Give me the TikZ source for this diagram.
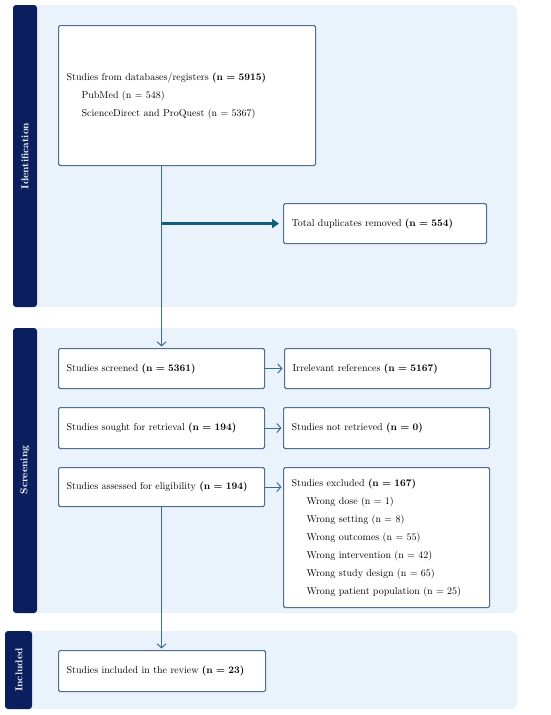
\documentclass[tikz,border=0pt]{standalone}
\usetikzlibrary{arrows.meta,positioning}
\definecolor{bandblue}{HTML}{0B1F5E}
\definecolor{panelblue}{HTML}{EAF2FC}
\definecolor{boxline}{HTML}{4F6E91}
\definecolor{arrowblue}{HTML}{3D6A99}
\definecolor{dupteal}{HTML}{0F5D7A}
\newcommand{\reason}[1]{\hspace*{15pt}#1}
\begin{document}
\begin{tikzpicture}[x=1pt,y=-1pt,
  box/.style={draw=boxline,line width=1.1pt,fill=white,rounded corners=1.5pt,anchor=north west,
    align=left,inner xsep=8pt,font=\fontsize{10}{18}\selectfont},
  flow/.style={draw=arrowblue,line width=1pt,-{Straight Barb[length=4pt,width=9pt]},shorten >=1.5pt},
  band/.style={fill=bandblue,rounded corners=3pt},
  phase/.style={rotate=90,text=white,font=\fontsize{10}{12}\selectfont\bfseries}]
\useasboundingbox (0,0) rectangle (550,715);
%panels
\fill[panelblue,rounded corners=6pt] (15,5) rectangle (517,307);
\fill[panelblue,rounded corners=6pt] (15,328) rectangle (517,613);
\fill[panelblue,rounded corners=6pt] (10,631) rectangle (517,709);
\fill[band] (13,5) rectangle (37,307);
\fill[band] (13,328) rectangle (37,613);
\fill[band] (5,631) rectangle (32,709);
\node[phase] (idlab) at (25,156) {Identification};
\node[phase] (scrlab) at (25,470) {Screening};
\node[phase] (inclab) at (19,670) {Included};
%boxes
\node[box,text width=241pt,minimum height=140pt] (src) at (58,25)
  {Studies from databases/registers \textbf{(n = 5915)}\\
   \reason{PubMed (n = 548)}\\
   \reason{ScienceDirect and ProQuest (n = 5367)}};
\node[box,text width=187pt,minimum height=40pt] (dup) at (283,203) {Total duplicates removed \textbf{(n = 554)}};
\node[box,text width=190pt,minimum height=40pt] (scr) at (58,348) {Studies screened \textbf{(n = 5361)}};
\node[box,text width=190pt,minimum height=40pt] (irr) at (284,348) {Irrelevant references \textbf{(n = 5167)}};
\node[box,text width=190pt,minimum height=41pt] (sgt) at (58,407) {Studies sought for retrieval \textbf{(n = 194)}};
\node[box,text width=190pt,minimum height=41pt] (nrt) at (283,407) {Studies not retrieved \textbf{(n = 0)}};
\node[box,text width=190pt,minimum height=39pt] (ass) at (58,467) {Studies assessed for eligibility \textbf{(n = 194)}};
\node[box,text width=190pt,minimum height=140pt] (exc) at (283,467)
  {Studies excluded \textbf{(n = 167)}\\
   \reason{Wrong dose (n = 1)}\\
   \reason{Wrong setting (n = 8)}\\
   \reason{Wrong outcomes (n = 55)}\\
   \reason{Wrong intervention (n = 42)}\\
   \reason{Wrong study design (n = 65)}\\
   \reason{Wrong patient population (n = 25)}};
\node[box,text width=191pt,minimum height=41pt] (inc) at (58,650) {Studies included in the review \textbf{(n = 23)}};
%arrows
\draw[flow] (src.south -| scr.north) -- (scr.north);
\draw[dupteal,line width=2.4pt,-{Triangle[length=7pt,width=9pt]},shorten >=4pt] (scr.north |- dup.west) -- (dup.west);
\draw[flow] (scr.east) -- (irr.west);
\draw[flow] (sgt.east) -- (nrt.west);
\draw[flow] (ass.east) -- (ass.east -| exc.west);
\draw[flow] (ass.south) -- (ass.south |- inc.north);
\end{tikzpicture}
\end{document}
